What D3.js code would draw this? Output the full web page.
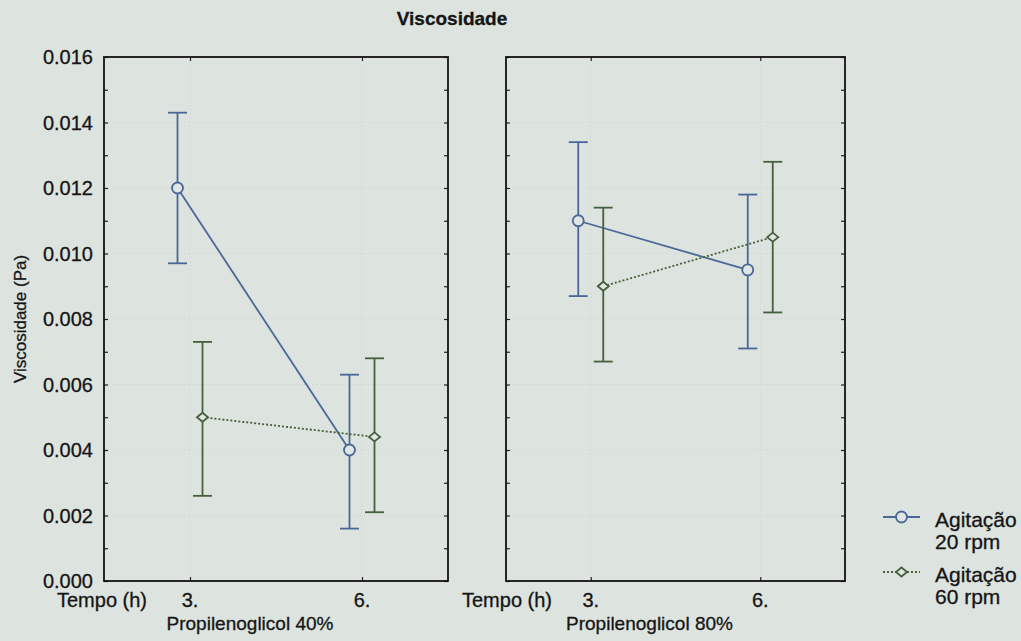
<!DOCTYPE html>
<html>
<head>
<meta charset="utf-8">
<script src="https://cdn.jsdelivr.net/npm/d3@7"></script>
<style>
  body { margin: 0; background: #dde3df; }
  svg { display: block; font-family: "Liberation Sans", Arial, sans-serif; }
  svg text { fill: #151515; stroke: #151515; stroke-width: 0.3px; }
</style>
</head>
<body>
<div id="chart"></div>
<script>
// Data.
const tempos = [3, 6];
const paineis = ["Propilenoglicol 40%", "Propilenoglicol 80%"];
const series = ["Agitação 20 rpm", "Agitação 60 rpm"];
const media20 = [[0.0120, 0.0040], [0.0110, 0.0095]];
const inf20   = [[0.0097, 0.0016], [0.0087, 0.0071]];
const sup20   = [[0.0143, 0.0063], [0.0134, 0.0118]];
const media60 = [[0.0050, 0.0044], [0.0090, 0.0105]];
const inf60   = [[0.0026, 0.0021], [0.0067, 0.0082]];
const sup60   = [[0.0073, 0.0068], [0.0114, 0.0128]];
const yTicks = [0, 0.002, 0.004, 0.006, 0.008, 0.010, 0.012, 0.014, 0.016];

document.addEventListener("DOMContentLoaded", function() {
  const W = 1021, H = 641;
  const blue = "#4a6798", green = "#46603c";
  const fs = 20;

  const svg = d3.select("#chart").append("svg")
    .attr("width", W).attr("height", H);

  svg.append("rect").attr("width", W).attr("height", H).attr("fill", "#dde3df");

  // Title
  svg.append("text")
    .attr("x", 452).attr("y", 25)
    .attr("text-anchor", "middle")
    .style("font-size", "19px")
    .style("font-weight", "bold")
    .text("Viscosidade");

  const top = 57, bottom = 581;
  const y = d3.scaleLinear().domain([0, 0.016]).range([bottom, top]);
  const panelX = [[104, 448], [506, 845]];
  const off = 12.5;

  const serieData = [
    { mean: media20, lo: inf20, hi: sup20, color: blue, shift: -off, dash: null, marker: "circle" },
    { mean: media60, lo: inf60, hi: sup60, color: green, shift: off, dash: "2,2", marker: "diamond" }
  ];

  paineis.forEach((nome, p) => {
    const [x0, x1] = panelX[p];
    const x = d3.scaleLinear().domain([1.5, 7.5]).range([x0, x1]);
    const g = svg.append("g");

    // faint grid
    g.selectAll("line.gy").data(yTicks.slice(1, -1)).enter().append("line")
      .attr("x1", x0).attr("x2", x1)
      .attr("y1", d => y(d)).attr("y2", d => y(d))
      .attr("stroke", "#cbd2ce").attr("stroke-dasharray", "1,3");
    g.selectAll("line.gx").data(tempos).enter().append("line")
      .attr("x1", d => x(d)).attr("x2", d => x(d))
      .attr("y1", top).attr("y2", bottom)
      .attr("stroke", "#cbd2ce").attr("stroke-dasharray", "1,3");

    // axes with inward ticks on all sides
    const yl = g.append("g").attr("transform", `translate(${x0},0)`)
      .call(d3.axisRight(y).tickValues(d3.range(0, 0.0161, 0.001)).tickSize(4).tickFormat(""));
    const yr = g.append("g").attr("transform", `translate(${x1},0)`)
      .call(d3.axisLeft(y).tickValues(d3.range(0, 0.0161, 0.001)).tickSize(4).tickFormat(""));
    const xb = g.append("g").attr("transform", `translate(0,${bottom})`)
      .call(d3.axisTop(x).tickValues(tempos).tickSize(4).tickFormat(""));
    const xt = g.append("g").attr("transform", `translate(0,${top})`)
      .call(d3.axisBottom(x).tickValues(tempos).tickSize(4).tickFormat(""));
    [yl, yr, xb, xt].forEach(a => {
      a.select(".domain").remove();
      a.selectAll("line").attr("stroke", "#222").attr("stroke-width", 1.2);
    });

    // frame
    g.append("rect")
      .attr("x", x0).attr("y", top)
      .attr("width", x1 - x0).attr("height", bottom - top)
      .attr("fill", "none").attr("stroke", "#111").attr("stroke-width", 1.8);

    // x tick labels
    g.selectAll("text.xt").data(tempos).enter().append("text")
      .attr("x", d => x(d)).attr("y", 607)
      .attr("text-anchor", "middle")
      .style("font-size", fs + "px")
      .text(d => d + ".");
    g.append("text")
      .attr("x", x0 - (p === 0 ? 47 : 44)).attr("y", 607)
      .style("font-size", fs + "px")
      .text("Tempo (h)");
    g.append("text")
      .attr("x", (x0 + x1) / 2 - 26).attr("y", 630)
      .attr("text-anchor", "middle")
      .style("font-size", "19px")
      .text(nome);

    // series
    serieData.forEach(s => {
      const pts = tempos.map((t, i) => ({
        x: x(t) + s.shift, m: s.mean[p][i], lo: s.lo[p][i], hi: s.hi[p][i]
      }));
      g.append("path")
        .datum(pts)
        .attr("d", d3.line().x(d => d.x).y(d => y(d.m)))
        .attr("fill", "none").attr("stroke", s.color).attr("stroke-width", 1.8)
        .attr("stroke-dasharray", s.dash);
      pts.forEach(d => {
        g.append("line").attr("x1", d.x).attr("x2", d.x)
          .attr("y1", y(d.lo)).attr("y2", y(d.hi))
          .attr("stroke", s.color).attr("stroke-width", 1.8);
        [d.lo, d.hi].forEach(v => {
          g.append("line").attr("x1", d.x - 9.5).attr("x2", d.x + 9.5)
            .attr("y1", y(v)).attr("y2", y(v))
            .attr("stroke", s.color).attr("stroke-width", 1.8);
        });
        drawMarker(g, s.marker, d.x, y(d.m), s.color);
      });
    });
  });

  function drawMarker(g, type, cx, cy, color) {
    if (type === "circle") {
      g.append("circle").attr("cx", cx).attr("cy", cy).attr("r", 5.5)
        .attr("fill", "#dfe6e4").attr("stroke", color).attr("stroke-width", 1.8);
    } else {
      g.append("path")
        .attr("d", `M${cx - 5.5},${cy} L${cx},${cy - 4.5} L${cx + 5.5},${cy} L${cx},${cy + 4.5} Z`)
        .attr("fill", "#dfe6e4").attr("stroke", color).attr("stroke-width", 1.8);
    }
  }

  // Y axis labels
  svg.selectAll("text.yt").data(yTicks).enter().append("text")
    .attr("x", 93).attr("y", d => y(d))
    .attr("dy", "0.35em")
    .attr("text-anchor", "end")
    .style("font-size", fs + "px")
    .text(d3.format(".3f"));
  svg.append("text")
    .attr("transform", `translate(26,${(top + bottom) / 2}) rotate(-90)`)
    .attr("text-anchor", "middle")
    .style("font-size", "17px")
    .text("Viscosidade (Pa)");

  // Legend
  const leg = svg.append("g");
  const legY = [517, 572];
  serieData.forEach((s, i) => {
    leg.append("line").attr("x1", 883).attr("x2", 920)
      .attr("y1", legY[i]).attr("y2", legY[i])
      .attr("stroke", s.color).attr("stroke-width", 1.8)
      .attr("stroke-dasharray", s.dash);
    drawMarker(leg, s.marker, 901.5, legY[i], s.color);
    const parts = series[i].split(" ");
    const t = leg.append("text").attr("x", 935).attr("y", legY[i] + 10)
      .style("font-size", "21px");
    t.append("tspan").attr("x", 935).text(parts[0]);
    t.append("tspan").attr("x", 935).attr("dy", 22).text(parts.slice(1).join(" "));
  });
});
</script>
</body>
</html>
